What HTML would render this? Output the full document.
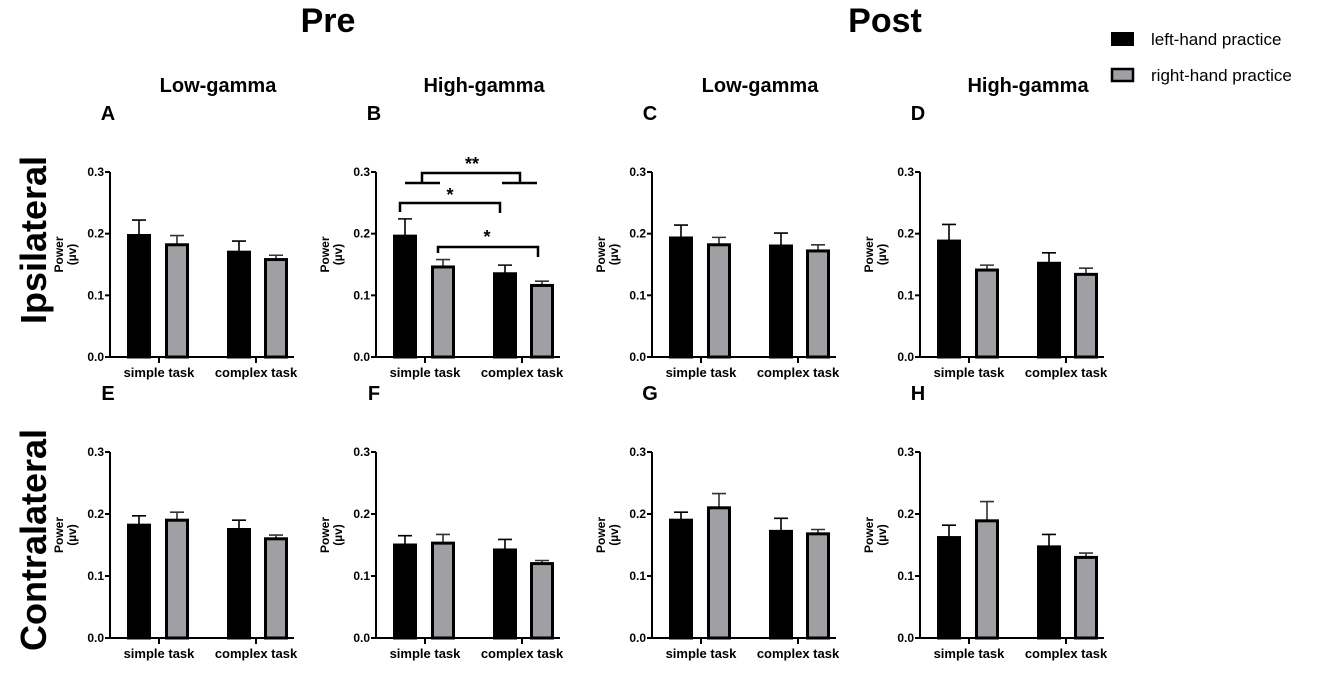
<!DOCTYPE html>
<html><head><meta charset="utf-8"><style>
body{margin:0;background:#fff;width:1325px;height:669px;overflow:hidden}
svg{font-family:"Liberation Sans",Arial,sans-serif}
</style></head><body>
<svg id="fig" width="1325" height="669" viewBox="0 0 1325 669" xmlns="http://www.w3.org/2000/svg">
<text x="328" y="32" font-size="34" font-weight="bold" text-anchor="middle">Pre</text>
<text x="885" y="32" font-size="34" font-weight="bold" text-anchor="middle">Post</text>
<g>
<rect x="1111" y="32" width="23" height="14" fill="#000"/>
<text x="1151" y="45" font-size="17">left-hand practice</text>
<rect x="1112" y="69" width="21" height="12" fill="#a0a0a4" stroke="#000" stroke-width="2.5"/>
<text x="1151" y="81" font-size="17">right-hand practice</text>
</g>
<text transform="translate(46,240) rotate(-90)" font-size="36" font-weight="bold" text-anchor="middle">Ipsilateral</text>
<text transform="translate(46,540) rotate(-90)" font-size="36" font-weight="bold" text-anchor="middle">Contralateral</text>
<g id="panels"></g>
</svg>
<script>
const panelLetters=["A","B","C","D","E","F","G","H"];
const panelTitles=["Low-gamma","High-gamma","Low-gamma","High-gamma"];
const categories=["simple task","complex task"];
const yTicks=[0,0.1,0.2,0.3];
const yTickLabels=["0.0","0.1","0.2","0.3"];
// per panel: [simple-left, simple-right, complex-left, complex-right]
const meanA=[0.197,0.182,0.170,0.158], errA=[0.222,0.197,0.188,0.165];
const meanB=[0.196,0.146,0.135,0.116], errB=[0.224,0.158,0.149,0.123];
const meanC=[0.193,0.182,0.180,0.172], errC=[0.214,0.194,0.201,0.182];
const meanD=[0.188,0.141,0.152,0.134], errD=[0.215,0.149,0.169,0.144];
const meanE=[0.182,0.190,0.175,0.160], errE=[0.197,0.203,0.190,0.166];
const meanF=[0.150,0.153,0.142,0.120], errF=[0.165,0.167,0.159,0.125];
const meanG=[0.190,0.210,0.172,0.168], errG=[0.203,0.233,0.193,0.175];
const meanH=[0.162,0.189,0.147,0.130], errH=[0.182,0.220,0.167,0.137];
const means=[meanA,meanB,meanC,meanD,meanE,meanF,meanG,meanH];
const errs=[errA,errB,errC,errD,errE,errF,errG,errH];

const NS="http://www.w3.org/2000/svg";
const root=document.getElementById('panels');
function mk(tag,attrs,parent,text){const e=document.createElementNS(NS,tag);for(const k in attrs)e.setAttribute(k,attrs[k]);if(text!==undefined)e.textContent=text;parent.appendChild(e);return e;}
const colX=[110,376,652,920];
const rowTop=[172,452], rowZero=[357,638];
const barOff=[17,55,117,154], barW=24, tickOff=[49,146], axisW=184;
for(let p=0;p<8;p++){
  const c=p%4,r=Math.floor(p/4);
  const ax=colX[c],top=rowTop[r],zero=rowZero[r];
  const y=v=>zero-(v/0.3)*(zero-top);
  const g=mk('g',{},root);
  
  
  const L=mk('text',{x:ax-2,y:top-52,'font-size':20,'font-weight':'bold','text-anchor':'middle'},g,panelLetters[p]);
  
  
  if(r===0){
    const t=mk('text',{x:ax+108,y:92,'font-size':20,'font-weight':'bold','text-anchor':'middle'},g,panelTitles[c]);
    
    
  }
  // y label
  const yl=mk('text',{transform:`translate(${ax-47},${(top+zero)/2-10}) rotate(-90)`,'font-size':12,'font-weight':'bold','text-anchor':'middle'},g);
  
  
  mk('tspan',{x:0,dy:0},yl,'Power');
  mk('tspan',{x:0,dy:13},yl,'(µv)');
  // bars
  for(let i=0;i<4;i++){
    const bx=ax+barOff[i], v=means[p][i], e=errs[p][i];
    const cx=bx+barW/2;
    const eb=mk('path',{d:`M${cx},${y(v)} V${y(e)} M${cx-7},${y(e)} H${cx+7}`,stroke:i%2?'#333':'#000','stroke-width':1.6,fill:'none'},g);
    
    
    const left=i%2===0;
    const b=mk('rect',{x:bx+1.5,y:y(v),width:barW-3,height:zero-y(v),fill:left?'#000':'#a0a0a4',stroke:'#000','stroke-width':3},g);
    
    
  }
  // axes
  const axes=mk('path',{d:`M${ax},${top} V${zero} H${ax+axisW}`,stroke:'#000','stroke-width':2,fill:'none'},g);
  
  
  yTicks.forEach((t,k)=>{
    mk('line',{x1:ax-5,x2:ax,y1:y(t),y2:y(t),stroke:'#000','stroke-width':2},g);
    const tl=mk('text',{x:ax-6,y:y(t)+4,'font-size':12,'font-weight':'bold','text-anchor':'end'},g,yTickLabels[k]);
    
    
  });
  categories.forEach((cat,k)=>{
    const tx=ax+tickOff[k];
    mk('line',{x1:tx,x2:tx,y1:zero,y2:zero+6,stroke:'#000','stroke-width':2},g);
    const cl=mk('text',{x:tx,y:zero+20,'font-size':13,'font-weight':'bold','text-anchor':'middle'},g,cat);
    
    
  });
}
// significance brackets in panel B
const sig=mk('g',{stroke:'#000','stroke-width':2.5,fill:'none'},root);


mk('path',{d:'M422,183 V173 H520 V183 M405,183 H440 M502,183 H537'},sig);
mk('path',{d:'M400,212 V203 H500 V213'},sig);
mk('path',{d:'M438,253 V247 H538 V257'},sig);
[[472,170,'**'],[450,201,'*'],[487,243,'*']].forEach(s=>{
  const t=mk('text',{x:s[0],y:s[1],'font-size':18,'font-weight':'bold','text-anchor':'middle',stroke:'none',fill:'#000'},root,s[2]);
  
  
});
</script>
</body></html>
